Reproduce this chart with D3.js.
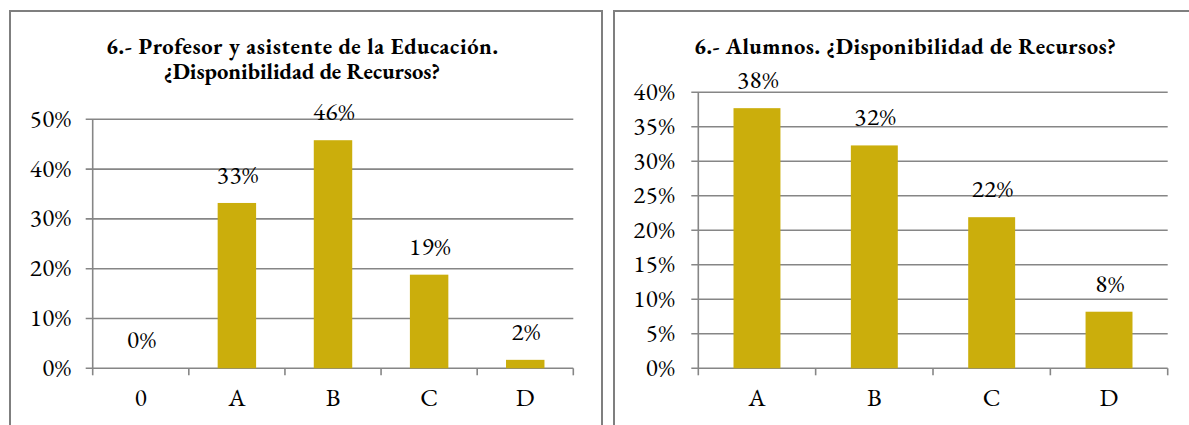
<!DOCTYPE html>
<meta charset="utf-8">
<style>
body { margin: 0; background: #fff; }
svg text { font-family: "EB Garamond", Garamond, "Liberation Serif", "DejaVu Serif", serif; fill: #000; }
.title { font-weight: bold; font-size: 22.5px; }
.tick-label, .value-label { font-size: 25px; letter-spacing: 0.6px; }
.cat-label { font-size: 25px; }
</style>
<svg width="1189" height="425"></svg>
<script src="https://d3js.org/d3.v7.min.js"></script>
<script>

// left chart: profesores y asistentes
var leftTitle = ["6.- Profesor y asistente de la Educación.", "¿Disponibilidad de Recursos?"];
var leftCategories = ["0", "A", "B", "C", "D"];
var leftValues = [0, 0.332, 0.458, 0.188, 0.017];
var leftLabels = ["0%", "33%", "46%", "19%", "2%"];
var leftTicks = [0, 0.1, 0.2, 0.3, 0.4, 0.5];

// right chart: alumnos
var rightTitle = ["6.- Alumnos. ¿Disponibilidad de Recursos?"];
var rightCategories = ["A", "B", "C", "D"];
var rightValues = [0.377, 0.323, 0.219, 0.082];
var rightLabels = ["38%", "32%", "22%", "8%"];
var rightTicks = [0, 0.05, 0.1, 0.15, 0.2, 0.25, 0.3, 0.35, 0.4];

var svg = d3.select("svg");
var barColor = "#cbae0c",
	gridColor = "#868686";

function drawChart(opt) {
	var g = svg.append("g");

	// panel frame
	g.append("rect")
		.attr("x", opt.frame[0]).attr("y", opt.frame[1])
		.attr("width", opt.frame[2]).attr("height", opt.frame[3])
		.attr("fill", "none")
		.attr("stroke", "#7f7f7f")
		.attr("stroke-width", 2);

	// title; only the first line is fitted to the original width
	opt.title.forEach(function(line, i) {
		var t = g.append("text")
			.attr("class", "title")
			.attr("x", opt.titleX)
			.attr("y", 54 + i * 25)
			.attr("text-anchor", "middle")
			.text(line);
		if (i === 0) t.attr("textLength", opt.titleWidth).attr("lengthAdjust", "spacing");
	});

	var x = d3.scaleBand()
		.domain(opt.categories)
		.range([opt.left, opt.right])
		.paddingInner(0.6)
		.paddingOuter(0.3);

	var y = d3.scaleLinear()
		.domain([0, opt.ticks[opt.ticks.length - 1]])
		.range([opt.bottom, opt.top]);

	// gridlines
	g.append("g")
		.selectAll("line")
		.data(opt.ticks)
		.enter().append("line")
		.attr("x1", opt.left - 7)
		.attr("x2", opt.right)
		.attr("y1", function(d) { return y(d); })
		.attr("y2", function(d) { return y(d); })
		.attr("stroke", gridColor)
		.attr("stroke-width", 1.6);

	// y labels
	g.append("g")
		.selectAll("text")
		.data(opt.ticks)
		.enter().append("text")
		.attr("class", "tick-label")
		.attr("x", opt.left - opt.labelGap)
		.attr("y", function(d) { return y(d); })
		.attr("dy", "0.3em")
		.attr("text-anchor", "end")
		.text(function(d) { return d3.format(".0%")(d); });

	// y axis line
	g.append("line")
		.attr("x1", opt.left).attr("x2", opt.left)
		.attr("y1", opt.top).attr("y2", opt.bottom)
		.attr("stroke", gridColor)
		.attr("stroke-width", 1.6);

	// x tick marks at band boundaries
	var step = x.step();
	var bounds = d3.range(opt.categories.length + 1).map(function(i) { return opt.left + i * step; });
	g.append("g")
		.selectAll("line")
		.data(bounds)
		.enter().append("line")
		.attr("x1", function(d) { return d; })
		.attr("x2", function(d) { return d; })
		.attr("y1", opt.bottom)
		.attr("y2", opt.bottom + 7)
		.attr("stroke", gridColor)
		.attr("stroke-width", 1.6);

	// bars
	g.append("g")
		.selectAll("rect")
		.data(opt.values)
		.enter().append("rect")
		.attr("x", function(d, i) { return x(opt.categories[i]); })
		.attr("y", function(d) { return y(d); })
		.attr("width", x.bandwidth())
		.attr("height", function(d) { return opt.bottom - y(d); })
		.attr("fill", barColor);

	// value labels
	g.append("g")
		.selectAll("text")
		.data(opt.values)
		.enter().append("text")
		.attr("class", "value-label")
		.attr("x", function(d, i) { return x(opt.categories[i]) + x.bandwidth() / 2 + 1; })
		.attr("y", function(d) { return y(d) - 20; })
		.attr("text-anchor", "middle")
		.text(function(d, i) { return opt.labels[i]; });

	// category labels
	g.append("g")
		.selectAll("text")
		.data(opt.categories)
		.enter().append("text")
		.attr("class", "cat-label")
		.attr("x", function(d) { return x(d) + x.bandwidth() / 2; })
		.attr("y", 406)
		.attr("text-anchor", "middle")
		.text(function(d) { return d; });
}

drawChart({
	frame: [10, 11, 592, 430],
	title: leftTitle, titleX: 302, titleWidth: 392,
	categories: leftCategories, values: leftValues, labels: leftLabels, ticks: leftTicks,
	left: 92.7, right: 573.3, top: 119.3, bottom: 368.3, labelGap: 21
});

drawChart({
	frame: [614, 11, 620, 430],
	title: rightTitle, titleX: 905, titleWidth: 422,
	categories: rightCategories, values: rightValues, labels: rightLabels, ticks: rightTicks,
	left: 698.3, right: 1167.7, top: 92.3, bottom: 368.3, labelGap: 23
});

</script>
